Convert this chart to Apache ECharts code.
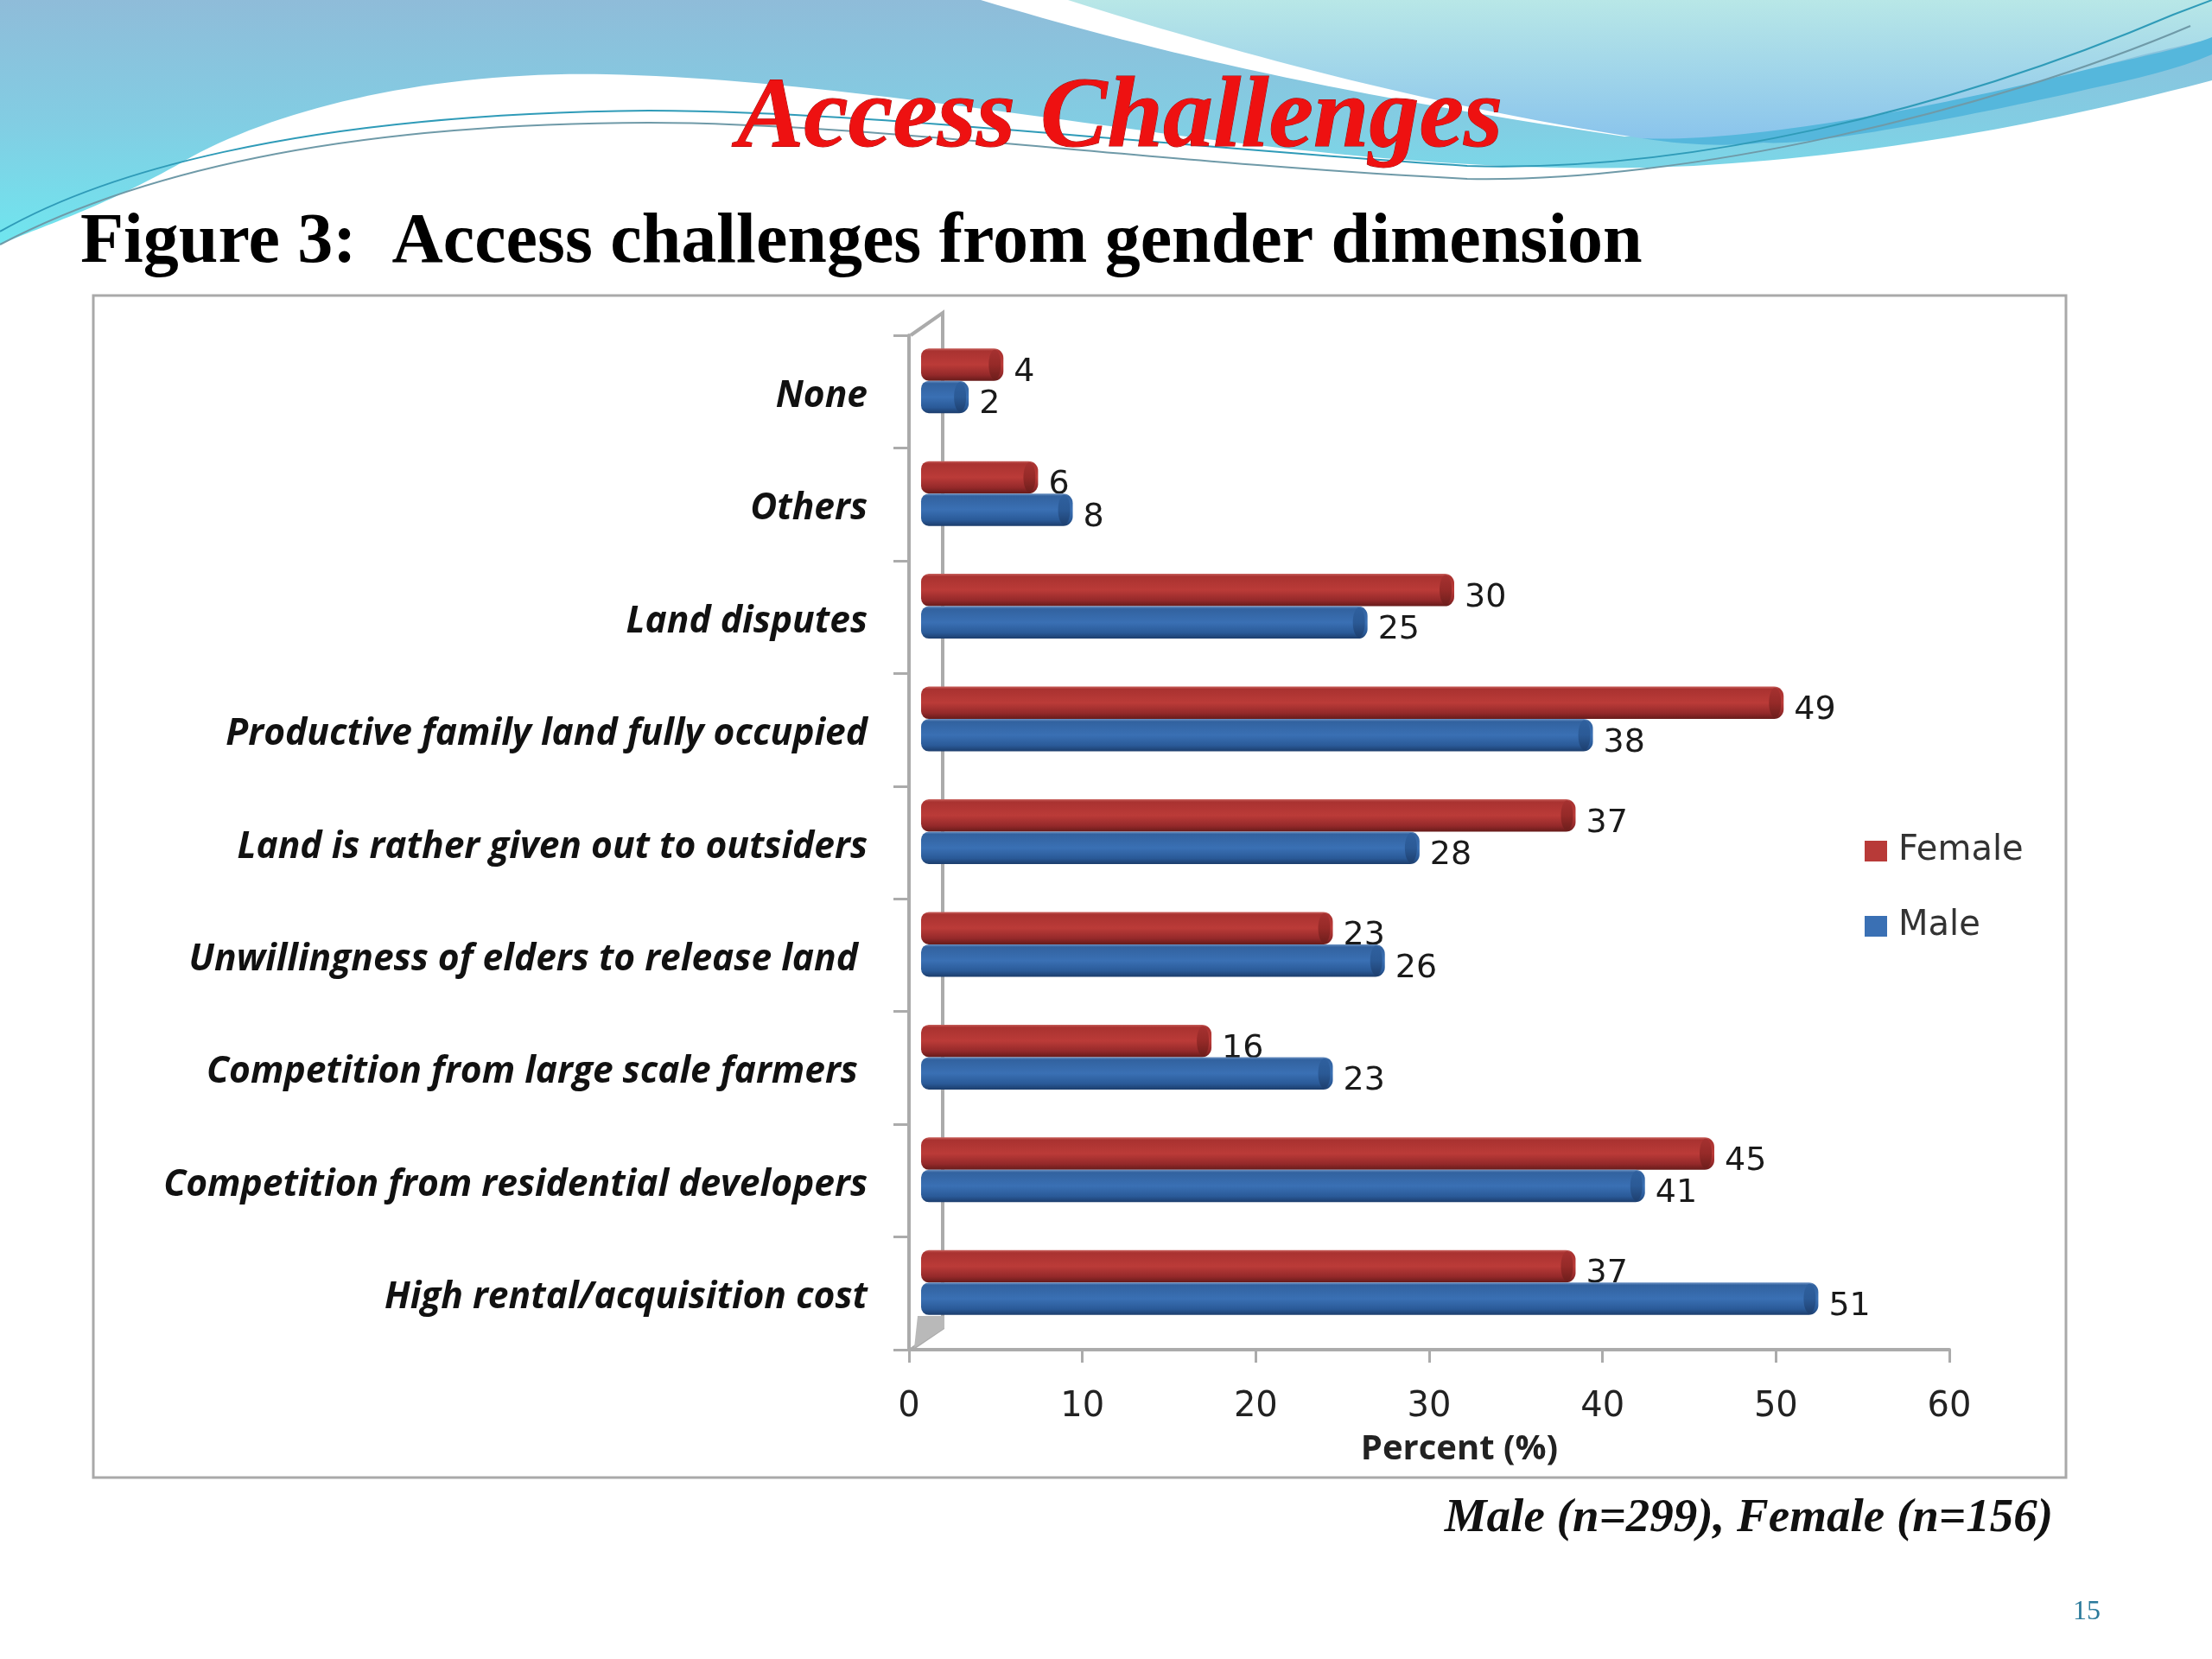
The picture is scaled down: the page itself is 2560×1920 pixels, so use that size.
<!DOCTYPE html>
<html><head><meta charset="utf-8">
<style>html,body{margin:0;padding:0;background:#fff}#c{width:2560px;height:1920px}</style>
<script src="https://cdn.jsdelivr.net/npm/echarts@6/dist/echarts.min.js"></script>
</head><body><div id="c"></div>
<script>
const categories = ["None","Others","Land disputes","Productive family land fully occupied","Land is rather given out to outsiders","Unwillingness of elders to release land ","Competition from large scale farmers ","Competition from residential developers","High rental/acquisition cost"];
const femaleValues = [4,6,30,49,37,23,16,45,37];
const maleValues = [2,8,25,38,28,26,23,41,51];
const pageTitle = "Access Challenges";
const figureTitle = "Figure 3:  Access challenges from gender dimension";
const sampleNote = "Male (n=299), Female (n=156)";
const pageNumber = "15";
const axisName = "Percent (%)";

const chart = echarts.init(document.getElementById('c'), null, {renderer:'canvas', width:2560, height:1920});
function lin(stops){return new echarts.graphic.LinearGradient(0,0,0,1,stops.map(c=>({offset:c[0],color:c[1]})));}
const red = [[0,'#c9625e'],[0.08,'#a93230'],[0.5,'#bb3b38'],[0.82,'#94292a'],[1,'#661b1a']];
const blue = [[0,'#6d93c4'],[0.08,'#32629f'],[0.5,'#3a70b4'],[0.82,'#2a5a98'],[1,'#1c3d6c']];
const redCap = [[0,'#a53130'],[0.5,'#962a28'],[1,'#6e1e1c']];
const blueCap = [[0,'#2f609e'],[0.5,'#2b5a96'],[1,'#1e4070']];

function barSeries(name, values, color, stops, capStops, sign, labelDy){
  return {
    type:'custom', name, coordinateSystem:'cartesian2d', encode:{x:0,y:1},
    itemStyle:{color},
    data: values.map((v,i)=>[v,i]),
    renderItem(params, api){
      const v = api.value(0), idx = api.value(1);
      const base = api.coord([0,idx]), end = api.coord([v,idx]);
      const cy = base[1]-12.5, h = 37.5;
      const y = sign<0 ? cy-h : cy;
      const x0 = base[0]+14, x1 = end[0]+29;
      return {type:'group', children:[
        {type:'rect', shape:{x:x0,y,width:x1-x0,height:h,r:[9,11,11,9]}, style:{fill:lin(stops)}},
        {type:'ellipse', shape:{cx:x1-10,cy:y+h/2,rx:7,ry:h/2-1.5}, style:{fill:lin(capStops)}},
        {type:'text', style:{text:String(v), x:x1+12, y:y+h/2+labelDy, font:'38px "DejaVu Sans"', fill:'#1a1a1a', verticalAlign:'middle', align:'left'}}
      ]};
    }
  };
}
const backdrop = {
  type:'custom', name:'backdrop', coordinateSystem:'none', silent:true, z:-5, data:[[0]],
  renderItem(){
    const p = (d,style)=>({type:'path',shape:{pathData:d},style});
    return {type:'group',children:[
      p('M0,0 L2560,0 L2560,93 C2400,135 2200,178 1960,192 C1750,202 1550,180 1388,160 C1150,128 900,90 702,86 C500,82 320,125 212,187 C120,240 40,265 0,283 Z',
        {fill:new echarts.graphic.LinearGradient(0,0,0,1,[{offset:0,color:'#8fbcd9'},{offset:0.5,color:'#82cde3'},{offset:1,color:'#6fe6ef'}],false)}),
      p('M1135,0 C1320,55 1520,105 1880,158 L2041,155 L2417,72 L2560,25 L2560,0 Z',{fill:'#fff'}),
      p('M1236,0 C1420,58 1640,120 1900,160 C2000,170 2250,130 2420,80 C2480,62 2530,52 2560,45 L2560,0 Z',
        {fill:new echarts.graphic.LinearGradient(0,0,0,1,[{offset:0,color:'#b8e7e7'},{offset:1,color:'#8ac4ec'}],false)}),
      p('M1900,160 C2000,165 2200,135 2417,80 C2480,65 2530,55 2560,43 L2560,63 C2520,80 2470,92 2417,103 C2300,130 2100,170 2041,165 C2000,170 1950,168 1900,160 Z',{fill:'#55b7dc'}),
      p('M0,268 C110,205 330,132 751,128 C1000,128 1350,170 1698,192 C1950,200 2250,130 2515,17 L2560,0',{fill:'none',stroke:'#2f9bb8',lineWidth:2}),
      p('M0,283 C120,220 340,143 751,142 C1000,142 1350,190 1698,207 C1950,212 2300,130 2535,30',{fill:'none',stroke:'#6f9aa8',lineWidth:2})
    ]};
  }
};

const wall = '#ababab';
chart.setOption({
  animation:false,
  backgroundColor:'#fff',
  grid:{left:1052,top:388,width:1204,height:1174,containLabel:false},
  xAxis:{type:'value',min:0,max:60,interval:10,position:'bottom',splitLine:{show:false},
    axisLine:{show:true,onZero:false,lineStyle:{color:wall,width:4}},
    axisTick:{show:true,length:15,lineStyle:{color:wall,width:3}},
    axisLabel:{margin:47,fontFamily:'DejaVu Sans',fontSize:40,color:'#222'},
    name:axisName,nameLocation:'middle',nameGap:96,
    nameTextStyle:{fontFamily:'Open Sans',fontWeight:'bold',fontSize:40,color:'#222',padding:[0,0,0,70]}},
  yAxis:{type:'category',inverse:true,data:categories,
    axisLine:{show:true,onZero:false,lineStyle:{color:wall,width:4}},
    axisTick:{show:true,length:18,alignWithLabel:false,lineStyle:{color:wall,width:3}},
    axisLabel:{margin:48,fontFamily:'Open Sans',fontStyle:'italic',fontWeight:'bold',fontSize:42.5,color:'#111',interval:0,verticalAlign:'top',lineHeight:11}},
  legend:{orient:'vertical',left:2153,top:960,itemWidth:26,itemHeight:24,itemGap:47,icon:'rect',
    data:['Female','Male'],textStyle:{fontFamily:'DejaVu Sans',fontSize:40,color:'#333',padding:[0,0,0,8]}},
  series:[
    backdrop,
    barSeries('Female',femaleValues,'#b83a38',red,redCap,-1,9),
    barSeries('Male',maleValues,'#3a70b4',blue,blueCap,1,9)
  ],
  graphic:{elements:[
    {type:'text',silent:true,z:-4,style:{text:pageTitle,x:1296,y:81,align:'center',verticalAlign:'top',font:'italic bold 116px "Liberation Serif"',fill:'#ee1111',stroke:'#9a1010',lineWidth:1,shadowColor:'rgba(40,0,0,0.75)',shadowBlur:3,shadowOffsetX:2,shadowOffsetY:3}},
    {type:'text',silent:true,z:-4,style:{text:figureTitle,x:93,y:241,align:'left',verticalAlign:'top',font:'bold 82px "Liberation Serif"',fill:'#000'}},
    {type:'rect',silent:true,z:-3,shape:{x:108,y:342,width:2283,height:1368},style:{fill:'#fff',stroke:'#a9a9a9',lineWidth:3}},
    {type:'polyline',silent:true,z:-2,shape:{points:[[1054,388],[1091,362],[1091,1537],[1054,1562]]},style:{fill:'none',stroke:wall,lineWidth:4}},
    {type:'polygon',silent:true,z:-2,shape:{points:[[1062,1523],[1093,1523],[1093,1537],[1058,1560]]},style:{fill:'#b9b9b9'}},
    {type:'text',silent:true,z:-2,style:{text:sampleNote,x:2376,y:1730,align:'right',verticalAlign:'top',font:'italic bold 55px "Liberation Serif"',fill:'#111'}},
    {type:'text',silent:true,z:-2,style:{text:pageNumber,x:2415,y:1850,align:'center',verticalAlign:'top',font:'32px "Liberation Serif"',fill:'#2b7a9b'}}
  ]}
});
</script></body></html>
